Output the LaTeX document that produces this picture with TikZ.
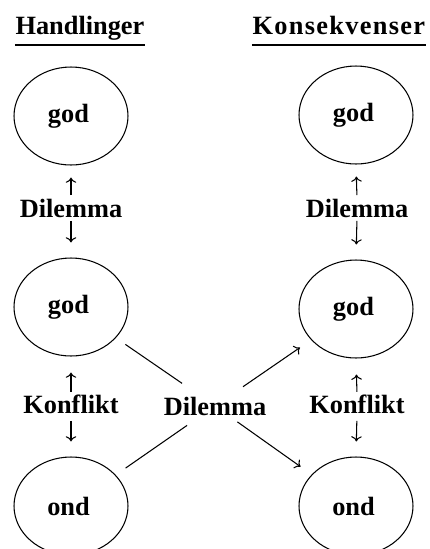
\documentclass[tikz,border=0pt]{standalone}
\usepackage{fontspec}
\setmainfont{Liberation Serif}
\usetikzlibrary{shapes.geometric, arrows.meta}

\tikzset{
	valg/.style={draw, ellipse, minimum width=2.28cm, minimum height=1.96cm, inner sep=0pt, execute at end node={\hspace{0.1cm}}},
	ord/.style={anchor=base, inner sep=0pt},
}

\begin{document}
\begin{tikzpicture}[x=0.02cm, y=-0.02cm, line width=0.6pt, >={To[length=3pt, width=6pt]}, font=\fontsize{15}{17}\selectfont\bfseries]
					\useasboundingbox (0,0) rectangle (430,549);
					\clip (0,0) rectangle (430,549);
					
					\node[ord, anchor=base west] (hand) at (15,34) {Handlinger};
					\node[ord, anchor=base west] (kons) at (252,34) {\addfontfeature{LetterSpace=5}Konsekvenser};
					\draw ([yshift=-0.22cm]hand.base west) -- ([yshift=-0.22cm]hand.base east);
					\draw ([yshift=-0.22cm]kons.base west) -- ([yshift=-0.22cm]kons.base east);
					
					\node[valg] (h1) at (71,116) {god};
					\node[valg] (h2) at (71,307) {god};
					\node[valg] (h3) at (71,506) {ond};
					\node[valg] (k1) at (356,115) {god};
					\node[valg] (k2) at (356,309) {god};
					\node[valg] (k3) at (356,506) {ond};
					
					\node[ord] (dil1) at (71,217) {Dilemma};
					\node[ord] (konf1) at (71,413) {Konflikt};
					\node[ord] (dil2) at (357,217) {Dilemma};
					\node[ord] (konf2) at (357,413) {Konflikt};
					\node[ord] (dilm) at (215,415) {Dilemma};
					
					\draw[->, shorten <=0.06cm, shorten >=0.24cm] (dil1.north) -- (h1.south);
					\draw[->, shorten <=0.06cm, shorten >=0.3cm] (dil1.south) -- (h2.north);
					\draw[->, shorten <=0.04cm, shorten >=0.32cm] (konf1.north) -- (h2.south);
					\draw[->, shorten <=0.14cm, shorten >=0.3cm] (konf1.south) -- (h3.north);
					\draw[->, shorten <=0.06cm, shorten >=0.24cm] (dil2.north) -- (k1.south);
					\draw[->, shorten <=0.06cm, shorten >=0.3cm] (dil2.south) -- (k2.north);
					\draw[->, shorten <=0.04cm, shorten >=0.32cm] (konf2.north) -- (k2.south);
					\draw[->, shorten <=0.14cm, shorten >=0.3cm] (konf2.south) -- (k3.north);
					
					\draw[shorten <=0.8cm, shorten >=1.32cm] (dilm.center) -- (h2.center);
					\draw[shorten <=0.68cm, shorten >=1.33cm] (dilm.center) -- (h3.center);
					\draw[->, shorten <=0.68cm, shorten >=1.36cm] (dilm.center) -- (k2.center);
					\draw[->, shorten <=0.55cm, shorten >=1.36cm] (dilm.center) -- (k3.center);
				\end{tikzpicture}
\end{document}
